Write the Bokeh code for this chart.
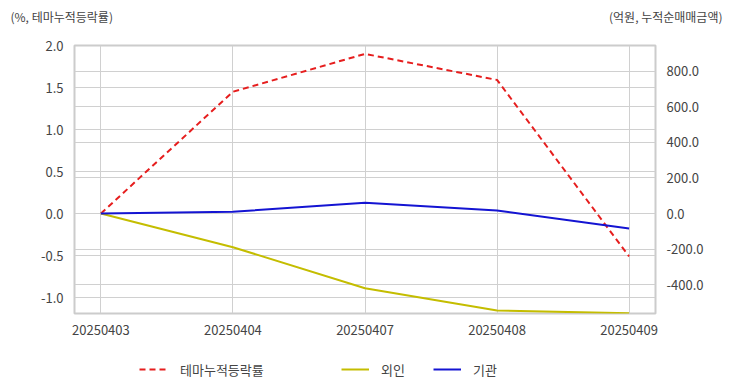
from bokeh.plotting import figure
from bokeh.models import (Range1d, LinearAxis, FixedTicker, PrintfTickFormatter, Grid,
                          Legend, LegendItem, ColumnDataSource, Label)
from bokeh.embed import file_html
from bokeh.resources import INLINE

dates = ["20250403", "20250404", "20250407", "20250408", "20250409"]
theme_rate = [0.0, 1.45, 1.90, 1.59, -0.51]      # %, left axis
foreign = [0.0, -190.0, -421.0, -546.0, -562.0]   # 억원, right axis
institution = [0.0, 10.0, 60.0, 17.0, -85.0]      # 억원, right axis
left_ticks = [-1.0, -0.5, 0.0, 0.5, 1.0, 1.5, 2.0]
right_ticks = [-400, -200, 0, 200, 400, 600, 800]
left_title = "(%, 테마누적등락률)"
right_title = "(억원, 누적순매매금액)"
series_names = ["테마누적등락률", "외인", "기관"]

FONT = "Noto Sans CJK KR"
TXT = "#444444"
GRID = "#d0d0d0"
C_THEME, C_FOR, C_INST = "#e61e1e", "#c4bd00", "#1414d2"
W = 732
H_TOP, H_MAIN, H_LEG = 30, 315, 47


def blank_fig(h):
    f = figure(width=W, height=h, output_backend="svg", toolbar_location=None,
               x_axis_type=None, y_axis_type=None, min_border=0,
               min_border_left=0, min_border_right=0, min_border_top=0, min_border_bottom=0,
               x_range=Range1d(0, W), y_range=Range1d(h, 0))
    f.outline_line_color = None
    f.xgrid.visible = False
    f.ygrid.visible = False
    return f


# ---- top captions
p_top = blank_fig(H_TOP)
p_top.add_layout(Label(x=10, y=16, text=left_title, text_font=FONT, text_font_size="12px",
                       text_color=TXT, text_align="left", text_baseline="middle"))
p_top.add_layout(Label(x=722, y=16, text=right_title, text_font=FONT, text_font_size="12px",
                       text_color=TXT, text_align="right", text_baseline="middle"))

# ---- main chart
xs = list(range(len(dates)))
src = ColumnDataSource(dict(x=xs, theme=theme_rate, foreign=foreign, inst=institution))

p = figure(width=W, height=H_MAIN, output_backend="svg", toolbar_location=None,
           x_range=Range1d(-0.2, len(dates) - 0.8), y_range=Range1d(-1.19, 2.0),
           min_border_left=74, min_border_right=77, min_border_top=45 - H_TOP,
           min_border_bottom=H_TOP + H_MAIN - 313)
p.extra_y_ranges = {"amt": Range1d(-563, 946)}
p.outline_line_color = "#cccccc"
p.outline_line_width = 2
p.background_fill_color = "white"
p.border_fill_color = "white"

xa = p.xaxis[0]
xa.ticker = FixedTicker(ticks=xs)
xa.major_label_overrides = {i: d for i, d in enumerate(dates)}
ya = p.yaxis[0]
ya.ticker = FixedTicker(ticks=left_ticks)
ya.formatter = PrintfTickFormatter(format="%.1f")
ra = LinearAxis(y_range_name="amt", ticker=FixedTicker(ticks=right_ticks),
                formatter=PrintfTickFormatter(format="%.1f"))
p.add_layout(ra, "right")

for ax in [xa, ya, ra]:
    ax.axis_line_color = None
    ax.major_tick_line_color = None
    ax.minor_tick_line_color = None
    ax.major_label_text_font = FONT
    ax.major_label_text_font_size = "13px"
    ax.major_label_text_color = TXT
    ax.major_label_standoff = 5

p.xgrid.ticker = FixedTicker(ticks=xs)
p.xgrid.grid_line_color = GRID
p.ygrid.ticker = FixedTicker(ticks=left_ticks)
p.ygrid.grid_line_color = GRID
p.add_layout(Grid(dimension=1, ticker=FixedTicker(ticks=right_ticks), y_range_name="amt",
                  grid_line_color=GRID))

p.line("x", "theme", source=src, line_color=C_THEME, line_width=2, line_dash="6 4")
p.line("x", "foreign", source=src, y_range_name="amt", line_color=C_FOR, line_width=2)
p.line("x", "inst", source=src, y_range_name="amt", line_color=C_INST, line_width=2)

# ---- legend strip (legend keys only; the key renderers hold no drawable data)
p_leg = blank_fig(H_LEG)
nan = float("nan")
k_theme = p_leg.line([nan], [nan], line_color=C_THEME, line_width=2, line_dash="6 4")
k_for = p_leg.line([nan], [nan], line_color=C_FOR, line_width=2)
k_inst = p_leg.line([nan], [nan], line_color=C_INST, line_width=2)


def mk_legend(items, loc, spacing=0, standoff=12):
    return Legend(items=items, location=loc, orientation="horizontal",
                  label_text_font=FONT, label_text_font_size="13px", label_text_color=TXT,
                  glyph_width=28, glyph_height=20, label_standoff=standoff, spacing=spacing,
                  padding=0, margin=0, border_line_color=None, background_fill_alpha=0)


p_leg.add_layout(mk_legend([LegendItem(label=series_names[0], renderers=[k_theme])],
                           (139, 13), standoff=13))
p_leg.add_layout(mk_legend([LegendItem(label=series_names[1], renderers=[k_for]),
                            LegendItem(label=series_names[2], renderers=[k_inst])],
                           (341, 13), spacing=28))

open("out.html", "w").write(file_html([p_top, p, p_leg], INLINE))
